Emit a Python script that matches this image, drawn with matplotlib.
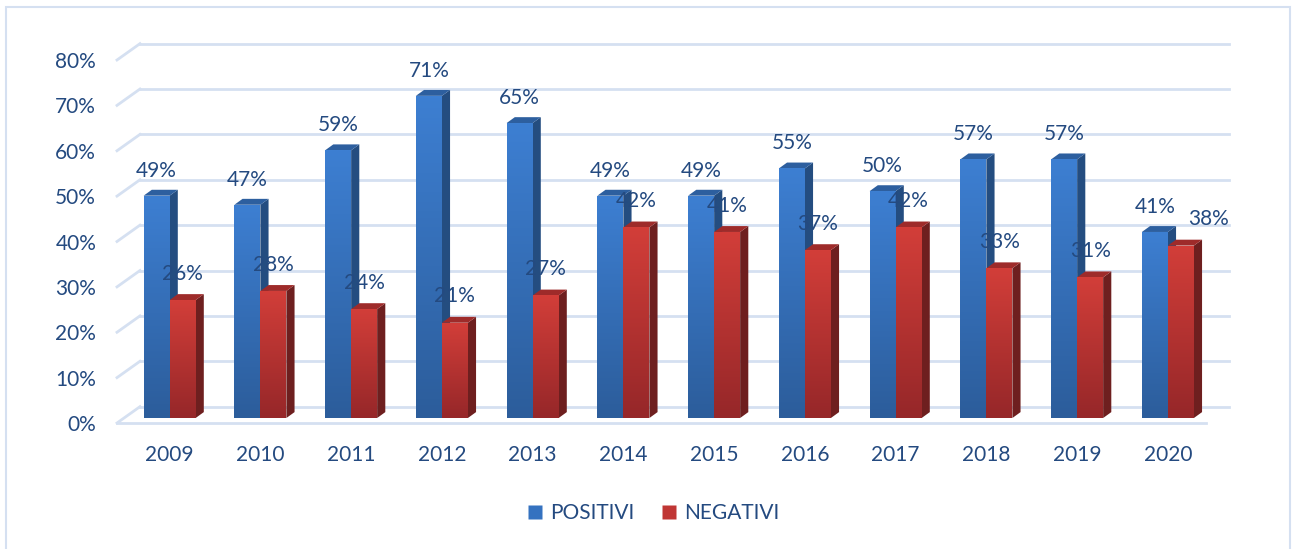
import numpy as np
import matplotlib
matplotlib.use("Agg")
from matplotlib import pyplot as plt
from matplotlib.patches import Polygon, Rectangle
from matplotlib.lines import Line2D

years = ["2009", "2010", "2011", "2012", "2013", "2014", "2015", "2016", "2017", "2018", "2019", "2020"]
positivi = [49, 47, 59, 71, 65, 49, 49, 55, 50, 57, 57, 41]
negativi = [26, 28, 24, 21, 27, 42, 41, 37, 42, 33, 31, 38]
yticks = [0, 10, 20, 30, 40, 50, 60, 70, 80]

plt.rcParams['font.family'] = ['Lato', 'DejaVu Sans']
txt_col = '#244a80'
grid_col = '#d5e0f1'

fig = plt.figure(figsize=(12.92, 5.49), dpi=100)
ax = fig.add_axes([117 / 1292, 126 / 549, 1089 / 1292, 363 / 549])
ax.set_xlim(-0.5, 11.5)
ax.set_ylim(0, 80)
for s in ax.spines.values():
    s.set_visible(False)

# 3d look: back wall offset, bar offset, bar depth (data units)
wdx, wdy = 0.253, 3.6
bdx, bdy = 0.08, 1.1
ddx, ddy = 0.09, 1.3
bw = 0.2865

x = np.arange(len(years))

# back wall gridlines + left diagonals
for v in yticks:
    ax.add_line(Line2D([-0.5 + wdx, 11.5 + wdx], [v + wdy, v + wdy], color=grid_col, lw=2, clip_on=False, zorder=1))
    ax.add_line(Line2D([-0.5, -0.5 + wdx], [v, v + wdy], color=grid_col, lw=2, clip_on=False, zorder=1))
# floor front edge
ax.add_line(Line2D([-0.5, 11.5], [0, 0], color=grid_col, lw=2, clip_on=False, zorder=1))


def grad_bars(xl, vals, c_top, c_bot, c_side, c_cap):
    bars = ax.bar(xl, vals, width=bw, bottom=bdy, align='edge', color=c_bot, zorder=3)
    cmap = matplotlib.colors.LinearSegmentedColormap.from_list('g', [c_bot, c_top])
    g = np.linspace(0, 1, 100).reshape(-1, 1)
    for b in bars:
        x0, y0 = b.get_x(), b.get_y()
        x1, y1 = x0 + b.get_width(), y0 + b.get_height()
        im = ax.imshow(g, extent=(x0, x1, y0, y1), origin='lower', cmap=cmap, aspect='auto', zorder=3)
        im.set_clip_path(b)
        ax.add_patch(Polygon([(x1, y0), (x1 + ddx, y0 + ddy), (x1 + ddx, y1 + ddy), (x1, y1)],
                             closed=True, facecolor=c_side, edgecolor='none', zorder=2.9))
        ax.add_patch(Polygon([(x0, y1), (x0 + ddx, y1 + ddy), (x1 + ddx, y1 + ddy), (x1, y1)],
                             closed=True, facecolor=c_cap, edgecolor='none', zorder=2.9))
    return bars


grad_bars(x + bdx - bw, positivi, '#3d7fd2', '#2c5d9b', '#244d80', '#2d5f9f')
grad_bars(x + bdx, negativi, '#d23e39', '#962729', '#6e1f1f', '#9e2b2a')

# excel moved the last red label to the right so it does not hit the blue one
neg_shift = {11: 20}

for xi, v in zip(x + bdx - bw / 2, positivi):
    ax.annotate(f"{v}%", (xi, v + bdy), xytext=(0, 18), textcoords='offset points',
                ha='center', va='center', fontsize=15, color=txt_col, zorder=6)
for i, (xi, v) in enumerate(zip(x + bdx + bw / 2, negativi)):
    ax.annotate(f"{v}%", (xi, v + bdy), xytext=(neg_shift.get(i, 0), 19), textcoords='offset points',
                ha='center', va='center', fontsize=15, color=txt_col, zorder=6)

ax.set_xticks(x + bdx)
ax.set_xticklabels(years)
ax.set_yticks(yticks)
ax.set_yticklabels([f"{v}%" for v in yticks])
ax.tick_params(axis='x', length=0, pad=16, labelsize=15, labelcolor=txt_col)
ax.tick_params(axis='y', length=0, pad=15, labelsize=15, labelcolor=txt_col)

handles = [Line2D([], [], marker='s', ls='none', markersize=10, markerfacecolor='#3572c0', markeredgecolor='none'),
           Line2D([], [], marker='s', ls='none', markersize=10, markerfacecolor='#c03634', markeredgecolor='none')]
fig.legend(handles, ["POSITIVI", "NEGATIVI"], loc='center', bbox_to_anchor=(652 / 1292, 1 - 513 / 549),
           ncol=2, frameon=False, fontsize=15, labelcolor=txt_col, handletextpad=0.2, columnspacing=1.2,
           handlelength=1.0)

fig.add_artist(Rectangle((6 / 1292, -0.05), 1284 / 1292, 1.05 - 7 / 549, transform=fig.transFigure,
                         fill=False, edgecolor='#d5e0f1', lw=1.5))

fig.savefig("out.png", dpi=100)
